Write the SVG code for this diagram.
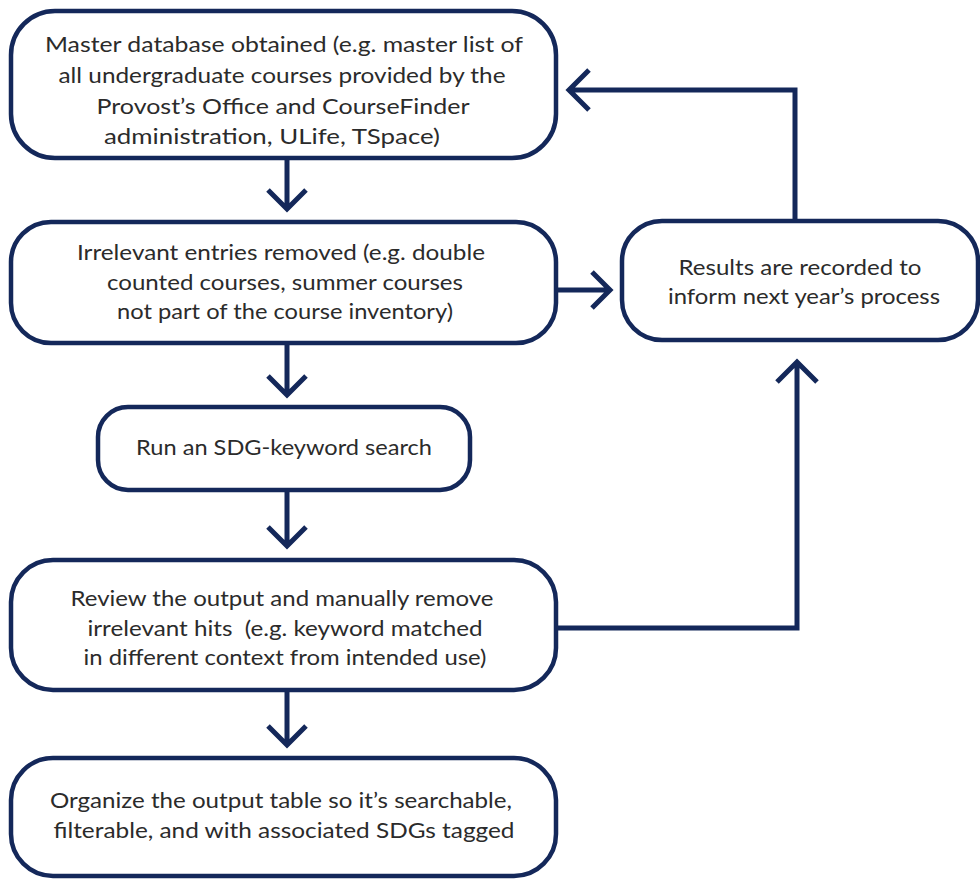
<svg xmlns="http://www.w3.org/2000/svg" width="980" height="879" viewBox="0 0 980 879">
<style>
.box{fill:#ffffff;stroke:#14285a;stroke-width:4.5}
.t{font-family:Lato,"Open Sans","Liberation Sans",sans-serif;font-size:22px;font-weight:400;fill:#2b2b2b;text-anchor:middle}
.c{fill:none;stroke:#14285a;stroke-width:5;stroke-linejoin:miter}
</style>
<rect width="980" height="879" fill="#ffffff"/>
<g id="connectors">
<path class="c" d="M287 158 V208 M268 190 L287 209 L306 190"/>
<path class="c" d="M556 290 H609 M592 272 L610 290 L592 308"/>
<path class="c" d="M795 221 V90 H570 M589 70 L569 90 L589 110"/>
<path class="c" d="M287 343 V394 M268 376 L287 395 L306 376"/>
<path class="c" d="M287 490 V545 M268 527 L287 546 L306 527"/>
<path class="c" d="M556 628 H797 V364 M777 382 L797 362 L817 382"/>
<path class="c" d="M287 690 V744 M268 726 L287 745 L306 726"/>
</g>
<g id="n1">
<rect class="box" x="11" y="11" width="545" height="147" rx="44"/>
<text class="t" x="284" y="52" textLength="478" lengthAdjust="spacingAndGlyphs">Master database obtained (e.g. master list of</text>
<text class="t" x="282" y="83" textLength="447" lengthAdjust="spacingAndGlyphs">all undergraduate courses provided by the</text>
<text class="t" x="283" y="114" textLength="373" lengthAdjust="spacingAndGlyphs">Provost’s Office and CourseFinder</text>
<text class="t" x="272" y="144" textLength="336" lengthAdjust="spacingAndGlyphs">administration, ULife, TSpace)</text>
</g>
<g id="n2">
<rect class="box" x="11" y="222" width="545" height="121" rx="40"/>
<text class="t" x="281" y="260" textLength="408" lengthAdjust="spacingAndGlyphs">Irrelevant entries removed (e.g. double</text>
<text class="t" x="285" y="290" textLength="356" lengthAdjust="spacingAndGlyphs">counted courses, summer courses</text>
<text class="t" x="285" y="319" textLength="336" lengthAdjust="spacingAndGlyphs">not part of the course inventory)</text>
</g>
<g id="n3">
<rect class="box" x="622" y="221" width="356" height="119" rx="40"/>
<text class="t" x="800" y="275" textLength="243" lengthAdjust="spacingAndGlyphs">Results are recorded to</text>
<text class="t" x="804" y="304" textLength="272" lengthAdjust="spacingAndGlyphs">inform next year’s process</text>
</g>
<g id="n4">
<rect class="box" x="98" y="407" width="372" height="83" rx="30"/>
<text class="t" x="284" y="455" textLength="296" lengthAdjust="spacingAndGlyphs">Run an SDG-keyword search</text>
</g>
<g id="n5">
<rect class="box" x="11" y="560" width="545" height="130" rx="42"/>
<text class="t" x="282" y="606" textLength="423" lengthAdjust="spacingAndGlyphs">Review the output and manually remove</text>
<text class="t" x="285" y="636" textLength="395" lengthAdjust="spacingAndGlyphs" xml:space="preserve">irrelevant hits  (e.g. keyword matched</text>
<text class="t" x="285" y="665" textLength="403" lengthAdjust="spacingAndGlyphs">in different context from intended use)</text>
</g>
<g id="n6">
<rect class="box" x="11" y="758" width="545" height="118" rx="42"/>
<text class="t" x="281" y="808" textLength="462" lengthAdjust="spacingAndGlyphs">Organize the output table so it’s searchable,</text>
<text class="t" x="284" y="838" textLength="461" lengthAdjust="spacingAndGlyphs">filterable, and with associated SDGs tagged</text>
</g>
</svg>
